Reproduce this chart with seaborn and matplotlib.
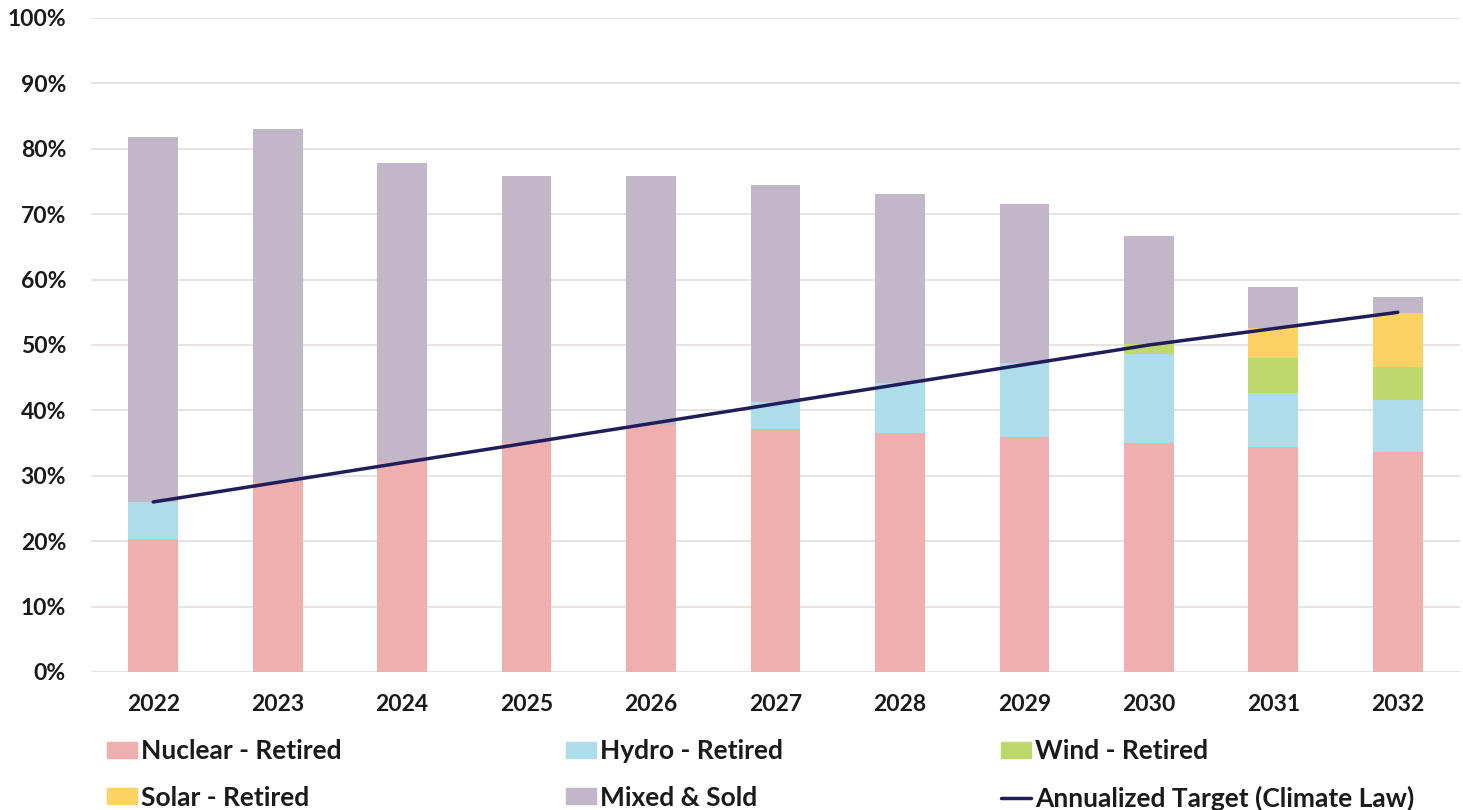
import numpy as np
import pandas as pd
import matplotlib
matplotlib.use("Agg")
import matplotlib.pyplot as plt
from matplotlib.patches import Patch
from matplotlib.lines import Line2D
import seaborn as sns

years = ["2022", "2023", "2024", "2025", "2026", "2027", "2028", "2029", "2030", "2031", "2032"]
nuclear = [20.4, 29.0, 32.1, 35.2, 37.8, 37.2, 36.5, 36.0, 35.0, 34.4, 33.6]
hydro = [5.6, 0.0, 0.0, 0.0, 0.0, 4.1, 7.7, 11.2, 13.6, 8.3, 8.0]
wind = [0.0, 0.0, 0.0, 0.0, 0.0, 0.0, 0.0, 0.0, 1.6, 5.3, 5.0]
solar = [0.0, 0.0, 0.0, 0.0, 0.0, 0.0, 0.0, 0.0, 0.0, 4.6, 8.3]
mixed = [55.8, 54.1, 45.7, 40.6, 38.0, 33.2, 28.9, 24.4, 16.5, 6.3, 2.4]
target = [26.0, 29.0, 32.0, 35.0, 38.0, 41.0, 44.0, 47.0, 50.0, 52.5, 55.0]

series = [
    ("Nuclear - Retired", nuclear, "#F0AFAF"),
    ("Hydro - Retired", hydro, "#ADDDEA"),
    ("Wind - Retired", wind, "#BFD86C"),
    ("Solar - Retired", solar, "#FDD264"),
    ("Mixed & Sold", mixed, "#C2B7C8"),
]
line_color = "#1F1D5A"
text_color = "#1A1A1A"

sns.set_theme(style="white")
plt.rcParams["font.family"] = ["Lato", "DejaVu Sans"]
plt.rcParams["font.weight"] = "bold"

fig = plt.figure(figsize=(14.63, 8.10), dpi=100)
ax = fig.add_axes([91 / 1463, 1 - 672 / 810, (1460 - 91) / 1463, (672 - 18) / 810])

bottom = np.zeros(len(years))
for name, vals, col in series:
    df = pd.DataFrame({"year": years, "value": vals})
    sns.barplot(data=df, x="year", y="value", bottom=bottom, color=col,
                width=0.4, ax=ax, saturation=1, errorbar=None, zorder=2,
                linewidth=0)
    bottom = bottom + np.array(vals)

sns.lineplot(x=np.arange(len(years)), y=target, color=line_color, linewidth=2.5,
             ax=ax, zorder=3)

ax.set_xlim(-0.5, len(years) - 0.5)
ax.set_ylim(0, 100)
ax.set_yticks(np.arange(0, 101, 10))
ax.set_yticklabels([f"{v}%" for v in range(0, 101, 10)])
ax.yaxis.grid(True, color="#E3DEDC", linewidth=1.2, zorder=0)
ax.set_axisbelow(True)
for s in ax.spines.values():
    s.set_visible(False)
ax.set_xlabel("")
ax.set_ylabel("")
ax.tick_params(axis="both", length=0, labelsize=16.5, colors=text_color)
ax.tick_params(axis="y", pad=18)
ax.tick_params(axis="x", pad=16)
for lbl in ax.get_xticklabels() + ax.get_yticklabels():
    lbl.set_fontweight("bold")

# legend: three columns of two entries each
columns = [
    (107, [Patch(color=series[0][2], label=series[0][0]),
           Patch(color=series[3][2], label=series[3][0])]),
    (566, [Patch(color=series[1][2], label=series[1][0]),
           Patch(color=series[4][2], label=series[4][0])]),
    (1001, [Patch(color=series[2][2], label=series[2][0]),
            Line2D([0], [0], color=line_color, linewidth=2.5,
                   label="Annualized Target (Climate Law)")]),
]
for x0, hs in columns:
    leg = fig.legend(handles=hs, ncol=1, loc="upper left",
                     bbox_to_anchor=(x0 / 1463, 1 - 739 / 810), frameon=False,
                     prop={"size": 19, "weight": "bold"}, handlelength=1.13,
                     handleheight=0.57, handletextpad=0.15, labelspacing=0.86,
                     borderaxespad=0, borderpad=0)
    for t in leg.get_texts():
        t.set_color(text_color)

fig.savefig("out.png", dpi=100, facecolor="white")
